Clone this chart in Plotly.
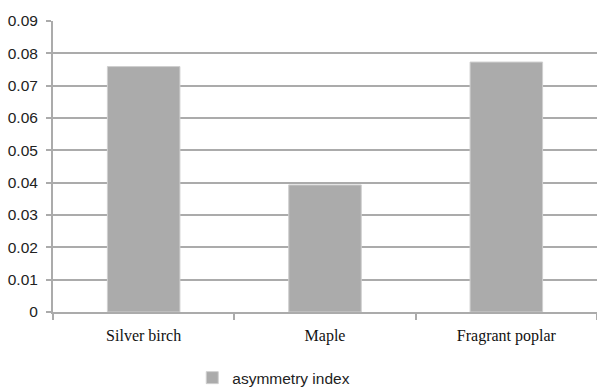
import plotly.graph_objects as go

categories = ["Silver birch", "Maple", "Fragrant poplar"]
asymmetry_index = [0.0759, 0.0393, 0.0773]
series_name = "asymmetry index"
y_ticks = [0, 0.01, 0.02, 0.03, 0.04, 0.05, 0.06, 0.07, 0.08, 0.09]

grid = "#ababab"
fig = go.Figure()
fig.add_trace(go.Bar(
    x=categories, y=asymmetry_index, name=series_name,
    marker=dict(color="#ababab", line=dict(color="#cfcfcf", width=1)),
    showlegend=True,
))

fig.update_layout(
    width=597, height=387,
    margin=dict(l=53, r=0, t=21, b=75, autoexpand=False),
    paper_bgcolor="white", plot_bgcolor="white",
    bargap=0.6,
    showlegend=True,
    legend=dict(orientation="h", x=0.256, xanchor="left", y=-0.227, yanchor="middle",
                font=dict(family="Liberation Sans", size=15.5, color="#222222"),
                bgcolor="rgba(0,0,0,0)"),
)
fig.update_xaxes(
    automargin=False,
    showline=True, linecolor=grid, linewidth=2,
    ticks="outside", tickson="boundaries", ticklen=6, tickcolor=grid, tickwidth=2,
    ticklabelstandoff=8,
    tickfont=dict(family="Liberation Serif", size=16, color="#111111"),
    showgrid=False, zeroline=False,
)
fig.update_yaxes(
    automargin=False,
    range=[0, 0.09], tickvals=y_ticks, ticktext=[f"{v:g}" for v in y_ticks],
    showline=True, linecolor=grid, linewidth=2,
    ticks="outside", ticklen=5, tickcolor=grid, tickwidth=2,
    ticklabelstandoff=5,
    showgrid=True, gridcolor=grid, gridwidth=2,
    zeroline=False,
    tickfont=dict(family="Liberation Sans", size=15.5, color="#222222"),
)

fig.write_html("out.html", config={"displayModeBar": False},
               post_script="document.body.style.margin='0';")
